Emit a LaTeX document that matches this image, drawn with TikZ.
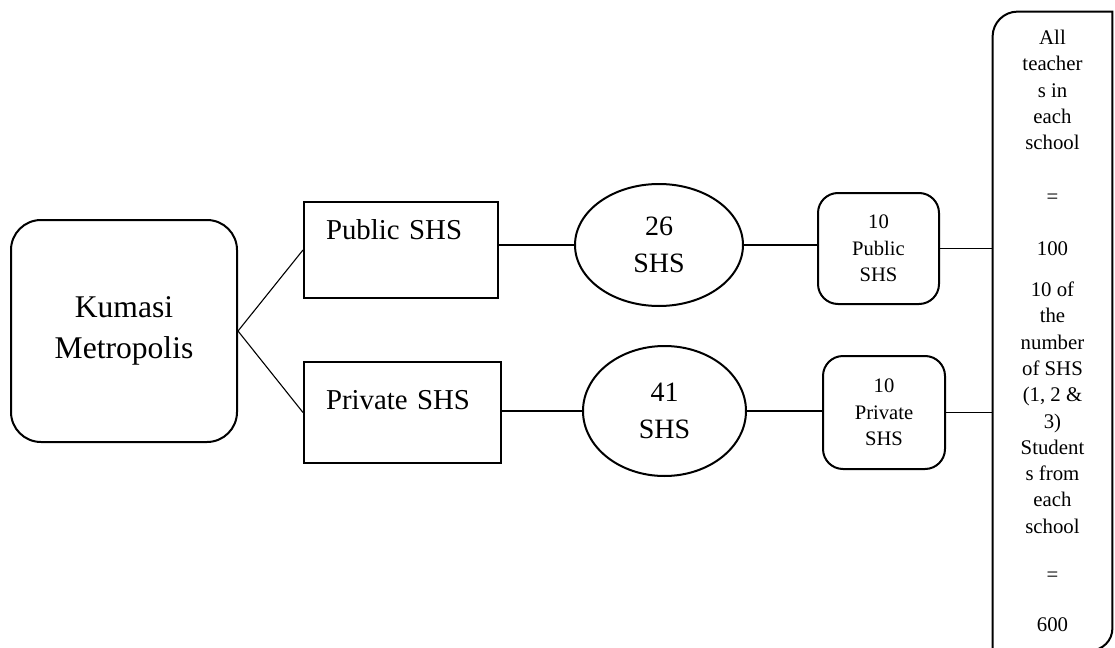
\documentclass[tikz,border=0pt]{standalone}
\usepackage{fontspec}
\setmainfont{Liberation Serif}
\usetikzlibrary{shapes.geometric,calc}
\tikzset{
  shapeline/.style={draw, line width=1pt},
  conn/.style={line width=0.55pt},
  bigtext/.style={font=\fontsize{14.4}{18.5}\selectfont},
  smalltext/.style={font=\fontsize{10.3}{13.2}\selectfont},
  sidebox/.style={shapeline, anchor=north west, inner xsep=11pt, inner ysep=0pt, align=left, bigtext},
  ovalbox/.style={shapeline, ellipse, inner sep=0pt, align=center, font=\fontsize{14}{18.5}\selectfont},
  samplebox/.style={shapeline, rounded corners=10pt, inner sep=0pt, align=center, smalltext}
}
\begin{document}
\begin{tikzpicture}[x=0.5pt,y=-0.5pt]
\useasboundingbox (0,0) rectangle (1115,648);

\node[shapeline, rounded corners=15pt, minimum width=113pt, minimum height=111pt,
      inner sep=0pt, align=center, font=\fontsize{15.8}{20.5}\selectfont]
      (K) at (124,331) {Kumasi\\Metropolis};

\node[sidebox, text width=75pt, text height=18.5pt, text depth=29.5pt]
      (PU) at (303,201) {Public SHS};
\node[sidebox, text width=76.5pt, text height=23.5pt, text depth=27pt]
      (PR) at (303,361) {Private SHS};

\node[ovalbox, minimum width=84pt, minimum height=61pt] (E1) at (659,245) {26\\SHS};
\node[ovalbox, minimum width=81.5pt, minimum height=65pt] (E2) at (664.5,411) {41\\SHS};

\node[samplebox, minimum width=60.5pt, minimum height=55.5pt] (S1) at (878.5,248.5) {10\\Public\\SHS};
\node[samplebox, minimum width=61pt, minimum height=56.5pt] (S2) at (884,412.5) {10\\Private\\SHS};

\node[minimum width=59.5pt, minimum height=319pt, inner sep=0pt, align=center,
      font=\fontsize{10.4}{13.15}\selectfont] (T) at (1052.5,331)
  {All\\teacher\\s in\\each\\school\\[14pt]=\\[12.5pt]100\\[7.5pt]10 of\\the\\number\\of SHS\\(1, 2 \&\\3)\\Student\\s from\\each\\school\\[11pt]=\\[12pt]600};
\draw[line width=1pt] (T.north east) -- ($(T.south east)+(0pt,11pt)$)
  arc[start angle=0, end angle=-90, radius=11pt] -- (T.south west)
  -- ($(T.north west)+(0pt,-12.5pt)$)
  arc[start angle=180, end angle=90, radius=12.5pt] -- cycle;

\draw[conn] (K.east) -- (PU.west);
\draw[conn] (K.east) -- (PR.west);
\draw[conn] (PU.east |- E1.west) -- (E1.west);
\draw[conn] (E1.east) -- (E1.east -| S1.west);
\draw[conn] (S1.east) -- (S1.east -| T.west);
\draw[conn] (PR.east |- E2.west) -- (E2.west);
\draw[conn] (E2.east) -- (E2.east -| S2.west);
\draw[conn] (S2.east) -- (S2.east -| T.west);
\end{tikzpicture}
\end{document}
